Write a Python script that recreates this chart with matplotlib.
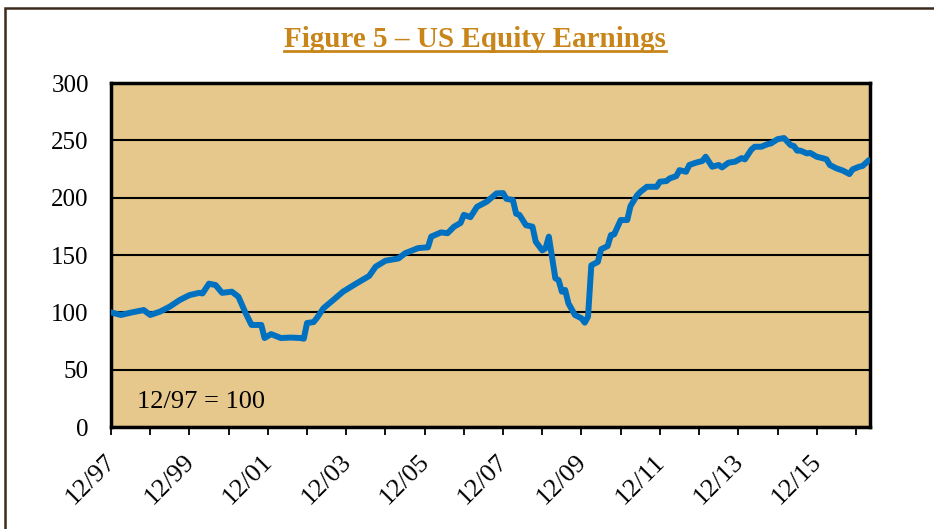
import matplotlib.pyplot as plt
from matplotlib.patches import Rectangle
from matplotlib.lines import Line2D
from matplotlib.transforms import ScaledTranslation

# months since 12/97 and index level (12/97 = 100)
months = [0, 3, 6, 10, 12, 15, 18, 21, 24, 27, 28, 30, 32, 34, 37, 39, 41, 43, 46, 47,
          49, 52, 55, 58, 59, 60, 62, 63, 65, 68, 71, 75, 79, 81, 84, 88, 90, 94, 97, 98,
          101, 103, 105, 107, 108, 110, 112, 115, 118, 120, 121, 123, 124, 125, 127, 129,
          130, 132, 133, 134, 136, 137, 138, 139, 140, 142, 144, 145, 146, 147, 149, 150,
          152, 153, 154, 156, 158, 159, 161, 162, 164, 167, 168, 170, 171, 173, 174, 176,
          177, 179, 181, 182, 184, 186, 187, 189, 191, 193, 194, 196, 197, 199, 201, 202,
          204, 206, 208, 209, 210, 211, 213, 214, 216, 218, 219, 220, 222, 224, 226, 227,
          229, 230, 232]
earnings = [100, 97.7, 99.7, 102, 97.7, 100.6, 105, 110.7, 115, 117, 116.5, 125, 123.8, 117,
            118, 113.6, 100.6, 89, 89, 77.6, 81, 77.6, 78, 77.6, 77, 90.7, 91.5, 95, 103.5,
            110.7, 118, 125, 131.7, 139.8, 145, 147, 151.5, 156, 156.7, 166, 169.7, 169,
            174.7, 178, 185, 183, 192, 196.5, 203.7, 204, 199, 198, 186, 185, 176, 174.7,
            161.6, 154, 155.8, 166, 129.7, 128, 118, 119.5, 107.8, 97.7, 94.8, 91, 96.2, 141,
            144, 155, 157.8, 167.4, 168, 180.5, 180.5, 192.7, 202, 205, 209.5, 209.5, 213.9,
            214.5, 216.8, 218.8, 224, 222.6, 228.5, 230.5, 232, 235.7, 227, 228.5, 226.4,
            230.5, 231.4, 234.5, 233.4, 242, 244.4, 244.4, 246.7, 247.3, 251, 252, 245.8, 245,
            241, 241, 238.6, 239, 235.7, 234.3, 233.4, 228.5, 225.6, 223.6, 220.6, 224.7, 227,
            227.6, 232.8]

tick_pos = list(range(0, 229, 24))
tick_labels = ["12/97", "12/99", "12/01", "12/03", "12/05", "12/07", "12/09", "12/11",
               "12/13", "12/15"]

serif = "Liberation Serif"

fig = plt.figure(figsize=(9.34, 5.29), dpi=100)
fig.patches.append(Rectangle((5 / 934, -0.1), 1.2, (1 - 8 / 529) + 0.1, transform=fig.transFigure,
                             fill=False, edgecolor="#3C2A1E", linewidth=1.8))

ax = fig.add_axes([111 / 934, 1 - 427 / 529, 759 / 934, 344 / 529])
ax.set_facecolor("#E6C88C")
ax.plot(months, earnings, color="#0070C0", linewidth=4.3, solid_joinstyle="round",
        solid_capstyle="round", zorder=3)

ax.set_xlim(0, 232.3)
ax.set_ylim(0, 300)
ax.set_yticks(range(0, 301, 50))
ax.yaxis.grid(True, color="black", linewidth=1.5)
ax.set_axisbelow(True)
for s in ax.spines.values():
    s.set_linewidth(2.5)
    s.set_color("black")

ax.set_xticks(range(0, 229, 12), minor=True)
ax.set_xticks(tick_pos)
ax.set_xticklabels(tick_labels, rotation=45, ha="right", va="top", fontsize=19, family=serif)
ax.tick_params(axis="x", which="both", length=6, width=1.3, direction="out", pad=11)
ax.tick_params(axis="y", length=0, pad=16, labelsize=18)
for lbl in ax.get_yticklabels():
    lbl.set_family(serif)
off = ScaledTranslation(9 / 100, 0, fig.dpi_scale_trans)
for lbl in ax.get_xticklabels():
    lbl.set_transform(lbl.get_transform() + off)

ax.text(8, 17, "12/97 = 100", fontsize=19, family=serif, va="baseline", ha="left")

title = fig.text(475 / 934, 1 - 46.5 / 529, "Figure 5 \u2013 US Equity Earnings", ha="center",
                 va="baseline", fontsize=21, fontweight="bold", family=serif, color="#C8861A")
fig.canvas.draw()
bb = title.get_window_extent().transformed(fig.transFigure.inverted())
uy = 1 - 51 / 529
fig.lines.append(Line2D([bb.x0, bb.x1], [uy, uy], transform=fig.transFigure,
                        color="#C8861A", linewidth=2))

fig.savefig("out.png", dpi=100)
